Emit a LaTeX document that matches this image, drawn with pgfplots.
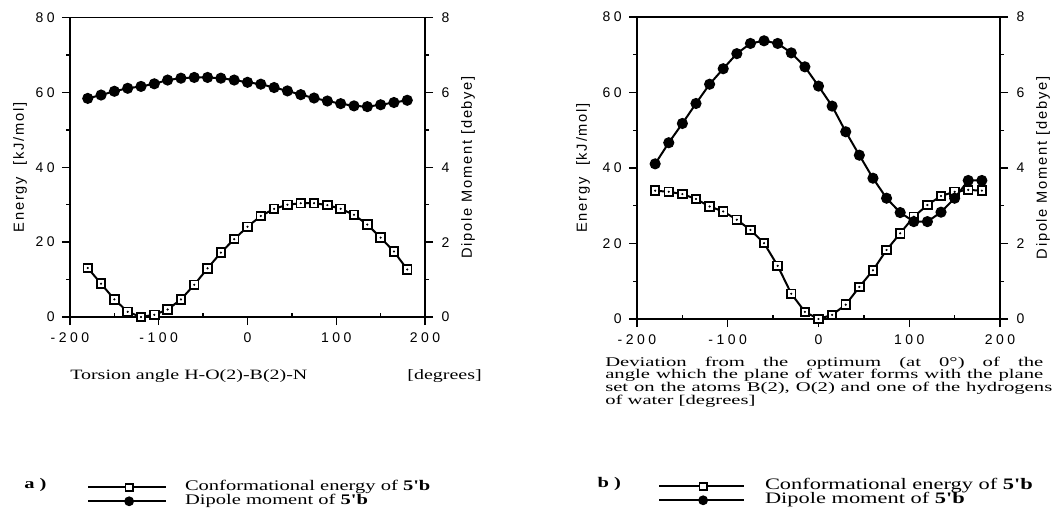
\documentclass[border=0pt]{standalone}
\usepackage{fontspec}
\usepackage{pgfplots}
\usepackage{pgfplotstable}
\pgfplotsset{compat=1.18}
\newfontfamily\tsans[LetterSpace=25]{Liberation Sans}
\newfontfamily\lsans[LetterSpace=12]{Liberation Sans}
\newfontfamily\wserif[FakeStretch=1.4]{Liberation Serif}
\newfontfamily\xserif[FakeStretch=1.55]{Liberation Serif}

% x: angle; ea/da: panel a energy and dipole; eb/db: panel b
\pgfplotstableread{
x    ea    da    eb    db
-180 13.1  5.84  34.0  4.11
-165 8.9   5.93  33.7  4.67
-150 4.7   6.03  33.1  5.18
-135 1.4   6.11  31.8  5.71
-120 0.0   6.16  29.8  6.22
-105 0.6   6.23  28.5  6.63
-90  2.0   6.33  26.3  7.03
-75  4.7   6.38  23.6  7.30
-60  8.6   6.40  20.1  7.37
-45  13.0  6.40  14.1  7.30
-30  17.2  6.38  6.7   7.05
-15  20.8  6.33  1.9   6.68
0    24.1  6.27  0.0   6.17
15   27.0  6.22  1.1   5.64
30   28.9  6.13  3.8   4.96
45   30.0  6.04  8.5   4.34
60   30.4  5.94  12.9  3.73
75   30.4  5.85  18.3  3.20
90   29.9  5.77  22.7  2.82
105  28.9  5.70  27.1  2.58
120  27.3  5.64  30.2  2.58
135  24.7  5.62  32.6  2.83
150  21.2  5.67  33.7  3.20
165  17.5  5.73  34.2  3.67
180  12.7  5.79  34.0  3.67
}\dat

\tikzset{lfont/.style={font=\lsans\fontsize{11}{12}\selectfont}}
\pgfplotsset{
  panel/.style={
    scale only axis, clip=false,
    xmin=-200, xmax=200,
    tick align=outside, major tick length=6pt, minor tick length=3pt,
    axis line style={line width=1.2pt},
    every tick/.style={black, line width=1pt},
    tick label style={font=\tsans\fontsize{10.5}{12}\selectfont},
    /pgf/number format/assume math mode=true,
  },
  en/.style={black, line width=1.5pt, mark=square*, mark size=3.2pt,
    mark options={fill=white, line width=1.4pt}},
  endot/.style={black, only marks, mark=*, mark size=0.6pt},
  dp/.style={black, line width=1.5pt, mark=*, mark size=3.4pt,
    mark options={fill=black}},
  leg/.style={legend image code/.code={%
    \draw[mark repeat=2, mark phase=2, ##1] plot coordinates {(0pt,0pt) (#1) (\pgfkeysvalueof{/pgfplots/leglen},0pt)};}},
  leglen/.initial=58.5pt,
}

\begin{document}
\begin{tikzpicture}
\useasboundingbox (0,0) rectangle (789.75pt,-381pt);

% ---------- panel a ----------
\begin{axis}[panel, at={(52.5pt,-237.75pt)}, anchor=south west,
  width=266.25pt, height=224.6pt,
  ymin=0, ymax=80, ytick={0,20,...,80}, minor y tick num=1,
  xtick={-200,-100,0,100,200}, xticklabels={-200,-100,0,100,200},
  minor x tick num=1, minor x tick style={yshift=3pt},
  xtick pos=bottom, ytick pos=left,
  yticklabel style={xshift=-2pt}, xticklabel style={yshift=-2.5pt},
  leglen=58.5pt, leg={30.75pt,0pt},
  legend style={draw=none, fill=none, at={(axis description cs:0,0)}, anchor=north west,
    xshift=12.75pt, yshift=-122.25pt, inner sep=0pt, column sep=13.5pt, row sep=0pt,
    nodes={inner sep=0pt, text height=8pt, text depth=2.5pt},
    font=\wserif\fontsize{11}{11}\selectfont},
  legend cell align=left]
\addplot[en, forget plot] table[x=x, y=ea] {\dat};
\addplot[endot, forget plot] table[x=x, y=ea] {\dat};
\addlegendimage{black, line width=1.3pt, mark=square*, mark size=2.7pt, mark options={fill=white, line width=1.3pt}}
\addlegendentry{Conformational energy of \textbf{5'b}}
\addlegendimage{black, line width=1.3pt, mark=*, mark size=3pt}
\addlegendentry{Dipole moment of \textbf{5'b}}
\node[rotate=90, lfont] at ([xshift=-37.5pt]rel axis cs:0,0.5) {Energy\ \ [kJ/mol]};
\end{axis}
\begin{axis}[panel, at={(52.5pt,-237.75pt)}, anchor=south west,
  width=266.25pt, height=224.6pt,
  axis x line=none, axis y line*=right, yticklabel style={xshift=3pt},
  ymin=0, ymax=8, ytick={0,2,...,8}, minor y tick num=1]
\addplot[dp] table[x=x, y=da] {\dat};
\node[rotate=90, lfont] at ([xshift=32.25pt]rel axis cs:1,0.5) {Dipole Moment [debye]};
\end{axis}

% ---------- panel b ----------
\begin{axis}[panel, at={(477.75pt,-239.25pt)}, anchor=south west,
  width=272.25pt, height=226.5pt,
  ymin=0, ymax=80, ytick={0,20,...,80}, minor y tick num=1,
  xtick={-200,-100,0,100,200}, xticklabels={-200,-100,0,100,200},
  minor x tick num=1, minor x tick style={yshift=3pt},
  xtick pos=bottom, ytick pos=left,
  yticklabel style={xshift=-2pt}, xticklabel style={yshift=-2.5pt},
  leglen=63.75pt, leg={33pt,0pt},
  legend style={draw=none, fill=none, at={(axis description cs:0,0)}, anchor=north west,
    xshift=15.75pt, yshift=-120pt, inner sep=0pt, column sep=15pt, row sep=0pt,
    nodes={inner sep=0pt, text height=8pt, text depth=2.5pt},
    font=\wserif\fontsize{12}{11}\selectfont},
  legend cell align=left]
\addplot[en, forget plot] table[x=x, y=eb] {\dat};
\addplot[endot, forget plot] table[x=x, y=eb] {\dat};
\addlegendimage{black, line width=1.3pt, mark=square*, mark size=2.7pt, mark options={fill=white, line width=1.3pt}}
\addlegendentry{Conformational energy of \textbf{5'b}}
\addlegendimage{black, line width=1.3pt, mark=*, mark size=3pt}
\addlegendentry{Dipole moment of \textbf{5'b}}
\node[rotate=90, lfont] at ([xshift=-40.5pt]rel axis cs:0,0.5) {Energy\ \ [kJ/mol]};
\end{axis}
\begin{axis}[panel, at={(477.75pt,-239.25pt)}, anchor=south west,
  width=272.25pt, height=226.5pt,
  axis x line=none, axis y line*=right, yticklabel style={xshift=3pt},
  ymin=0, ymax=8, ytick={0,2,...,8}, minor y tick num=1]
\addplot[dp] table[x=x, y=db] {\dat};
\node[rotate=90, lfont] at ([xshift=32.25pt]rel axis cs:1,0.5) {Dipole Moment [debye]};
\end{axis}

% ---------- captions ----------
\node[anchor=base west, inner sep=0pt, font=\wserif\fontsize{10.7}{11}\selectfont] at (52.5pt,-284.5pt) {Torsion angle H-O(2)-B(2)-N};
\node[anchor=base east, inner sep=0pt, font=\wserif\fontsize{10.7}{11}\selectfont] at (361.5pt,-284.5pt) {[degrees]};
\begin{scope}[every node/.style={anchor=base west, inner sep=0pt, font=\xserif\fontsize{10}{10}\selectfont}]
\node at (453.75pt,-274.5pt) {\makebox[328.5pt][s]{Deviation from the optimum (at 0°) of the}};
\node at (453.75pt,-284.1pt) {\makebox[328.5pt][s]{angle which the plane of water forms with the plane}};
\node at (453.75pt,-293.7pt) {\makebox[335.25pt][s]{set on the atoms B(2), O(2) and one of the hydrogens}};
\node at (453.75pt,-303.3pt) {of water [degrees]};
\end{scope}
\node[font=\wserif\bfseries\fontsize{11}{11}\selectfont] at (26.6pt,-363.75pt) {a )};
\node[font=\wserif\bfseries\fontsize{11}{11}\selectfont] at (457pt,-363.25pt) {b )};
\end{tikzpicture}
\end{document}
